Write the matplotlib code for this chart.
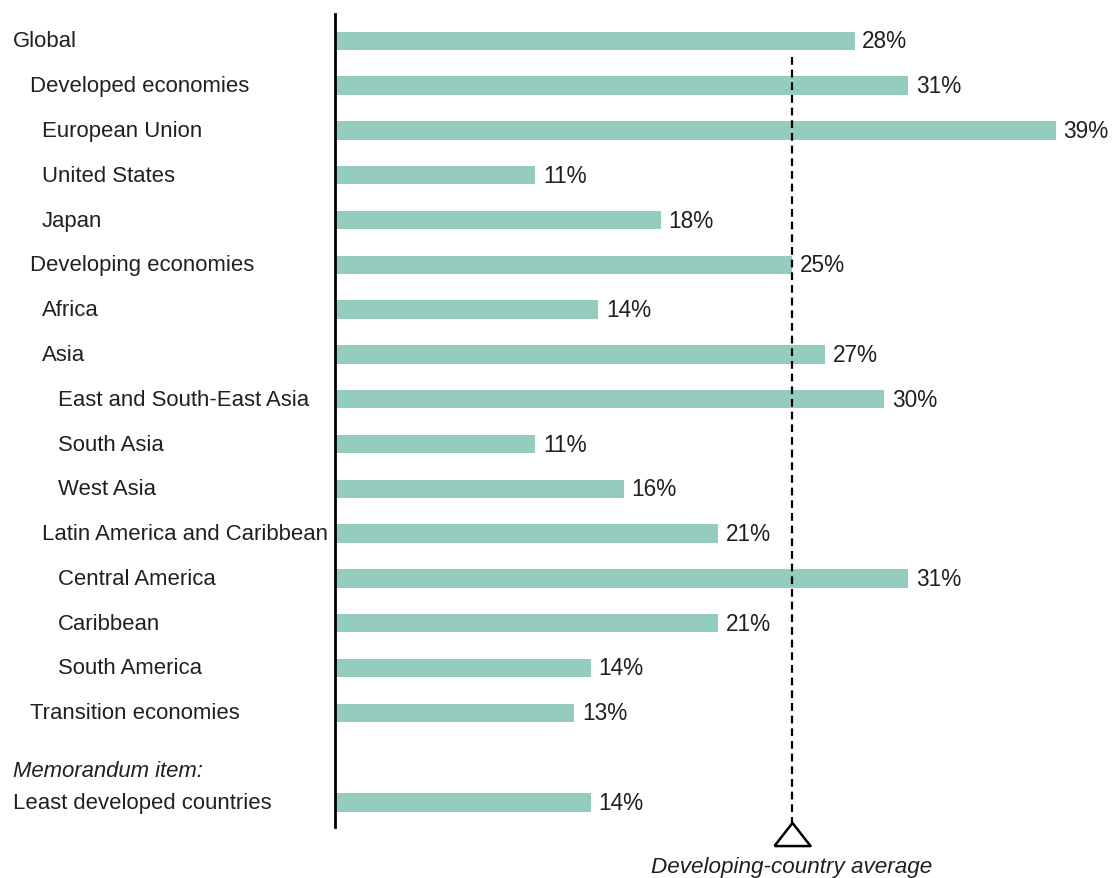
import matplotlib.pyplot as plt

plt.rcParams['font.family'] = ['Liberation Sans', 'DejaVu Sans']

# 数据
labels = ['Global', 'Developed economies', 'European Union', 'United States', 'Japan',
          'Developing economies', 'Africa', 'Asia', 'East and South-East Asia',
          'South Asia', 'West Asia', 'Latin America and Caribbean', 'Central America',
          'Caribbean', 'South America', 'Transition economies',
          'Least developed countries']
indent = [0, 1, 2, 2, 2, 1, 2, 2, 3, 3, 3, 2, 3, 3, 3, 1, 0]
values = [28.1, 31.0, 39.0, 10.8, 17.6, 24.7, 14.2, 26.5, 29.7, 10.8, 15.6, 20.7,
          31.0, 20.7, 13.8, 12.9, 13.8]
value_text = ['28%', '31%', '39%', '11%', '18%', '25%', '14%', '27%', '30%', '11%',
              '16%', '21%', '31%', '21%', '14%', '13%', '14%']
rows = list(range(16)) + [17]
dev_avg = 24.7

bar_color = '#94cdbf'
txt_color = '#231f20'

W, H = 1114, 879
fig = plt.figure(figsize=(W / 100, H / 100), dpi=100)
ax = fig.add_axes([336 / W, (H - 828) / H, (W - 336) / W, (828 - 15) / H])
ax.set_xlim(0, (W - 336) / 18.46)
ax.set_ylim(17.55, -0.6)
ax.axis('off')

ax.barh(rows, values, height=0.41, color=bar_color, zorder=2)

# 数值标签
for r, v, t in zip(rows, values, value_text):
    ax.annotate(t, (v, r), xytext=(5.5, 0), textcoords='offset points',
                va='center', ha='left', fontsize=16.3, color=txt_color)

# 左侧分类标签
indent_px = [13, 30, 42, 58]
to_fig = fig.transFigure.inverted()
for r, lab, ind in zip(rows, labels, indent):
    y_fig = to_fig.transform(ax.transData.transform((0, r)))[1]
    fig.text(indent_px[ind] / W, y_fig, lab, va='center', ha='left',
             fontsize=15.9, color=txt_color)
y_memo = to_fig.transform(ax.transData.transform((0, 16.28)))[1]
fig.text(13 / W, y_memo, 'Memorandum item:', style='italic', va='center', ha='left',
         fontsize=15.9, color=txt_color)

# 纵轴线
fig.add_artist(plt.Line2D([335 / W, 335 / W], [(H - 15) / H, (H - 828) / H],
                          color='black', lw=2))

# 发展中国家平均线
ax.plot([dev_avg, dev_avg], [0.35, 17.45], color='black', lw=1.6,
        linestyle=(0, (3.5, 2.2)), zorder=3, clip_on=False)
tri = [(-1, -0.64), (1, -0.64), (0, 0.64), (-1, -0.64)]
ax.plot([dev_avg], [17.7], marker=tri, markersize=26, markerfacecolor='white',
        markeredgecolor='black', markeredgewidth=1.8, clip_on=False, zorder=4)
x_fig = to_fig.transform(ax.transData.transform((dev_avg, 0)))[0]
fig.text(x_fig, (H - 868) / H, 'Developing-country average', style='italic',
         ha='center', va='center', fontsize=16.2, color=txt_color)

fig.savefig('out.png', dpi=100)
